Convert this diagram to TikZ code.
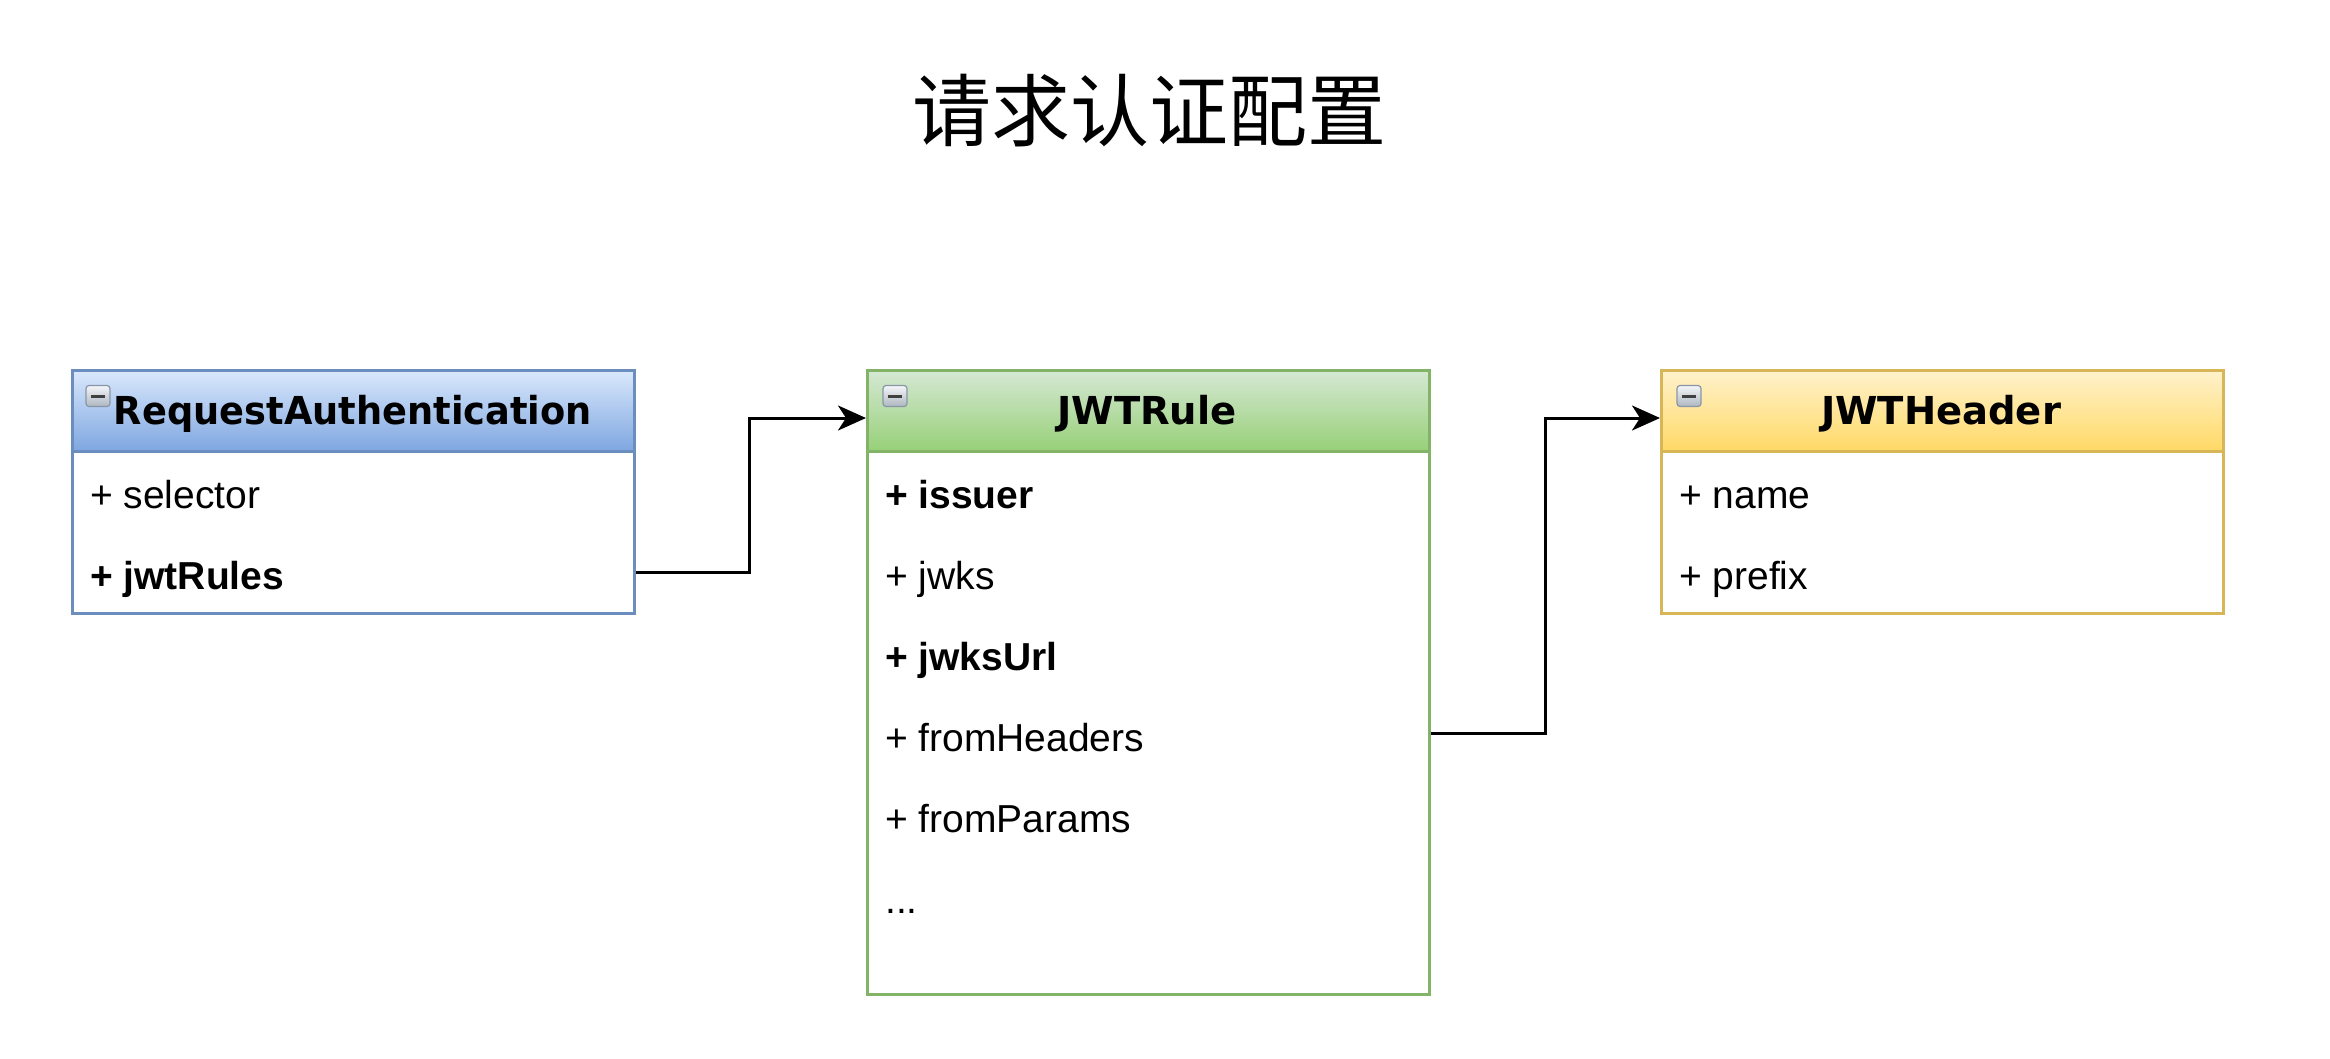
\documentclass[tikz,border=0pt]{standalone}
\usepackage{fontspec}
\setmainfont{Liberation Sans}
\newfontfamily\cjk{Noto Sans CJK SC}
\newfontfamily\hdfont{DejaVu Sans}
\usetikzlibrary{arrows.meta}
\definecolor{bluetop}{HTML}{DAE8FC}
\definecolor{bluebot}{HTML}{7EA6E0}
\definecolor{bluestroke}{HTML}{6C8EBF}
\definecolor{greentop}{HTML}{D5E8D4}
\definecolor{greenbot}{HTML}{97D077}
\definecolor{greenstroke}{HTML}{82B366}
\definecolor{yellowtop}{HTML}{FFF2CC}
\definecolor{yellowbot}{HTML}{FFD966}
\definecolor{yellowstroke}{HTML}{D6B656}
\definecolor{iconstroke}{HTML}{8A96A8}
\definecolor{icontop}{HTML}{F4F6F8}
\definecolor{iconbot}{HTML}{AEB6C0}
\tikzset{
  classbody/.style={draw, line width=2.5pt, fill=white, minimum width=562pt, anchor=north west, inner sep=0pt},
  classhead/.style={draw, line width=2.5pt, minimum width=562pt, minimum height=81pt, anchor=north west, inner sep=0pt},
  headtext/.style={anchor=base, font=\hdfont\fontsize{38.5}{46}\selectfont\bfseries, inner sep=0pt},
  rowtext/.style={anchor=base west, inner sep=0pt, font=\fontsize{39}{46}\selectfont},
  rowbold/.style={rowtext, font=\fontsize{39}{46}\selectfont\bfseries},
  iconbox/.style={draw=iconstroke, line width=1.2pt, rounded corners=3pt, top color=icontop, bottom color=iconbot, minimum width=24pt, minimum height=21pt, inner sep=0pt},
  iconbar/.style={line width=3pt, draw=black!75},
  conn/.style={line width=3pt, -{Stealth[length=28pt,width=25pt,inset=8pt]}},
}
\begin{document}
\begin{tikzpicture}[x=1pt,y=-1pt]
\useasboundingbox[fill=white] (0,0) rectangle (2330,1058);

% title
\node[font=\cjk\fontsize{79}{90}\selectfont, inner sep=0pt] (title) at (1149,111) {请求认证配置};

% ---------- RequestAuthentication ----------
\node[classbody, draw=bluestroke, minimum height=243pt] (ra) at (71,369) {};
\node[classhead, draw=bluestroke, top color=bluetop, bottom color=bluebot] (rah) at (71,369) {};
\node[headtext] (raht) at (353,424) {\scalebox{0.955}[1]{RequestAuthentication}};
\node[iconbox] (raicon) at (98,396) {};
\draw[iconbar] ([xshift=-7pt]raicon.center) -- ([xshift=7pt]raicon.center);
\node[rowtext] (ra1) at (90,508) {+ selector};
\node[rowbold] (ra2) at (90,589) {+ jwtRules};
\coordinate (ra2c) at (71,572);

% ---------- JWTRule ----------
\node[classbody, draw=greenstroke, minimum height=624pt] (jr) at (866,369) {};
\node[classhead, draw=greenstroke, top color=greentop, bottom color=greenbot] (jrh) at (866,369) {};
\node[headtext] (jrht) at (1147,424) {JWTRule};
\node[iconbox] (jricon) at (895,396) {};
\draw[iconbar] ([xshift=-7pt]jricon.center) -- ([xshift=7pt]jricon.center);
\node[rowbold] (jr1) at (885,508) {+ issuer};
\node[rowtext] (jr2) at (885,589) {+ jwks};
\node[rowbold] (jr3) at (885,670) {+ jwksUrl};
\node[rowtext] (jr4) at (885,751) {+ fromHeaders};
\node[rowtext] (jr5) at (885,832) {+ fromParams};
\node[rowtext] (jr6) at (885,913) {...};
\coordinate (jrin) at (866,418);
\coordinate (jr4c) at (866,733);

% ---------- JWTHeader ----------
\node[classbody, draw=yellowstroke, minimum height=243pt] (jh) at (1660,369) {};
\node[classhead, draw=yellowstroke, top color=yellowtop, bottom color=yellowbot] (jhh) at (1660,369) {};
\node[headtext] (jhht) at (1941,424) {JWTHeader};
\node[iconbox] (jhicon) at (1689,396) {};
\draw[iconbar] ([xshift=-7pt]jhicon.center) -- ([xshift=7pt]jhicon.center);
\node[rowtext] (jh1) at (1679,508) {+ name};
\node[rowtext] (jh2) at (1679,589) {+ prefix};
\coordinate (jhin) at (1660,418);

% ---------- connectors ----------
\coordinate (bend1) at (749,0);
\coordinate (bend2) at (1545,0);
\draw[conn] (ra.east |- ra2c) -- (bend1 |- ra2c) -- (bend1 |- jrin) -- (jrin);
\draw[conn] (jr.east |- jr4c) -- (bend2 |- jr4c) -- (bend2 |- jhin) -- (jhin);
\end{tikzpicture}
\end{document}
